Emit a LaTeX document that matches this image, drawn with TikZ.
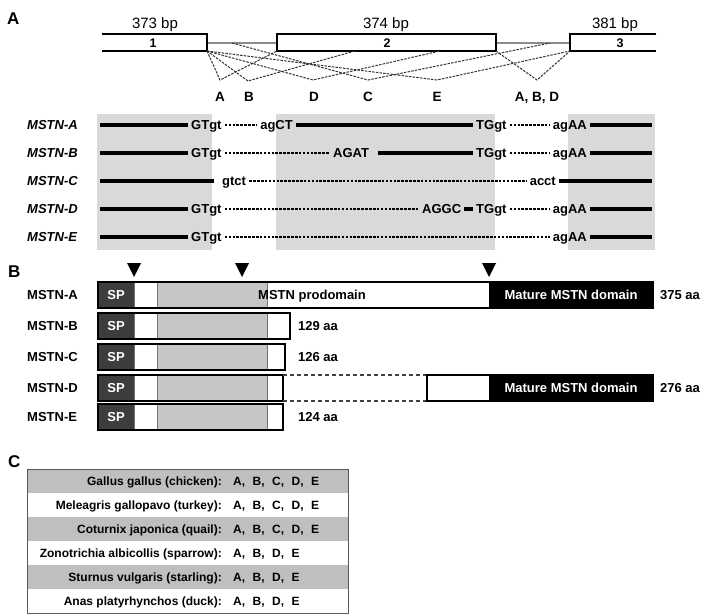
\documentclass[tikz,border=0pt]{standalone}
\usepackage{fontspec}
\setmainfont{Liberation Sans}
\definecolor{bgA}{HTML}{D9D9D9}
\definecolor{pg}{HTML}{C6C6C6}
\definecolor{spd}{HTML}{3D3D3D}
\definecolor{rowg}{HTML}{BFBFBF}
\begin{document}
\begin{tikzpicture}[x=1pt,y=-1pt,
  every node/.style={inner sep=0pt},
  f13/.style={font=\bfseries\fontsize{13}{15}\selectfont},
  seq/.style={f13, text height=9.3pt, text depth=0pt, inner xsep=3pt, inner ysep=0pt},
  rowlab/.style={f13, text height=9.3pt, text depth=0pt, anchor=west},
  panel/.style={font=\bfseries\fontsize{17}{19}\selectfont, anchor=base west},
  bp/.style={font=\fontsize{15}{17}\selectfont, anchor=base},
  exnum/.style={font=\bfseries\fontsize{12.5}{14}\selectfont, anchor=base},
  splab/.style={font=\bfseries\fontsize{13.5}{15}\selectfont, anchor=base},
  tline/.style={line width=3.2pt},
  dline/.style={line width=1.2pt, dash pattern=on 2.6pt off 1.3pt},
  splice/.style={line width=1pt, dash pattern=on 2.5pt off 1.2pt, black!80},
  exonl/.style={line width=2pt},
  intronl/.style={line width=1.5pt, black!45},
  boxl/.style={line width=1.3pt},
  divl/.style={line width=0.6pt, black!55},
  tri/.style={fill=black},
  tab/.style={font=\bfseries\fontsize{12}{14}\selectfont, text height=8.6pt, text depth=0pt},
]
\useasboundingbox[fill=white] (0,0) rectangle (701,615);

% ---------------- Panel A: gene structure ----------------
\node[panel] (pA) at (7,25) {A};
\node[bp] (bp1) at (155,29) {373 bp};
\node[bp] (bp2) at (386,29) {374 bp};
\node[bp] (bp3) at (615,29) {381 bp};

\coordinate (e1tl) at (102,34);
\coordinate (e1bl) at (102,51);
\coordinate (e1tr) at (207,34);
\coordinate (e1br) at (207,51);
\coordinate (e2tl) at (277,34);
\coordinate (e2bl) at (277,51);
\coordinate (e2tr) at (496,34);
\coordinate (e2br) at (496,51);
\coordinate (e3tl) at (570,34);
\coordinate (e3bl) at (570,51);
\coordinate (e3tr) at (656,34);
\coordinate (e3br) at (656,51);

\draw[intronl] (207,43) -- (277,43);
\draw[intronl] (496,43) -- (570,43);
\draw[exonl] (e1tl) -- (e1tr) -- (e1br) -- (e1bl);
\draw[exonl] (e2tl) rectangle (e2br);
\draw[exonl] (e3tr) -- (e3tl) -- (e3bl) -- (e3br);
\node[exnum] (n1) at (153,48) {1};
\node[exnum] (n2) at (387,48) {2};
\node[exnum] (n3) at (620,48) {3};

% splice vertices
\coordinate (vA) at (220,80);
\coordinate (vB) at (248,81);
\coordinate (vD) at (313,80);
\coordinate (vC) at (368,80);
\coordinate (vE) at (437,80);
\coordinate (vABD) at (537,80);
\coordinate (tB) at (355,51);
\coordinate (tD) at (440,51);
\coordinate (sC) at (232,43);
\coordinate (tC) at (550,43);

\draw[splice] (e1br) -- (vA) -- (e2bl);
\draw[splice] (e1br) -- (vB) -- (tB);
\draw[splice] (e1br) -- (vD) -- (tD);
\draw[splice] (sC) -- (vC) -- (tC);
\draw[splice] (e1br) -- (vE) -- (e3bl);
\draw[splice] (e2br) -- (vABD) -- (e3bl);

\node[splab] (lA) at (220,102) {A};
\node[splab] (lB) at (249,102) {B};
\node[splab] (lD) at (314,102) {D};
\node[splab] (lC) at (368,102) {C};
\node[splab] (lE) at (437,102) {E};
\node[splab] (lABD) at (537,102) {A, B, D};

% ---------------- Panel A: transcripts ----------------
\fill[bgA] (97,114) rectangle (212,250);
\fill[bgA] (276,114) rectangle (495,250);
\fill[bgA] (568,114) rectangle (655,250);

\node[rowlab] (tA) at (27,125) {\itshape MSTN-A};
\node[rowlab] (tB) at (27,153) {\itshape MSTN-B};
\node[rowlab] (tC) at (27,181) {\itshape MSTN-C};
\node[rowlab] (tD) at (27,209) {\itshape MSTN-D};
\node[rowlab] (tE) at (27,237) {\itshape MSTN-E};

% MSTN-A
\coordinate (a0) at (100,125);
\node[seq, anchor=west] (aGT) at (188,125) {GTgt};
\node[seq, anchor=east] (aCT) at (296,125) {agCT};
\node[seq, anchor=west] (aTG) at (473,125) {TGgt};
\node[seq, anchor=east] (aAA) at (590,125) {agAA};
\coordinate (a9) at (652,125);
\draw[tline] (a0) -- (aGT.west);
\draw[dline] (aGT.east) -- (aCT.west);
\draw[tline] (aCT.east) -- (aTG.west);
\draw[dline] (aTG.east) -- (aAA.west);
\draw[tline] (aAA.east) -- (a9);

% MSTN-B
\coordinate (b0) at (100,153);
\node[seq, anchor=west] (bGT) at (188,153) {GTgt};
\node[seq, anchor=west] (bAG) at (330,153) {AGAT};
\node[seq, anchor=west] (bTG) at (473,153) {TGgt};
\node[seq, anchor=east] (bAA) at (590,153) {agAA};
\coordinate (b9) at (652,153);
\draw[tline] (b0) -- (bGT.west);
\draw[dline] (bGT.east) -- (bAG.west);
\draw[tline, shorten <=6pt] (bAG.east) -- (bTG.west);
\draw[dline] (bTG.east) -- (bAA.west);
\draw[tline] (bAA.east) -- (b9);

% MSTN-C
\coordinate (c0) at (100,181);
\node[seq, anchor=west] (cGT) at (219,181) {gtct};
\node[seq, anchor=east] (cAC) at (559,181) {acct};
\coordinate (c9) at (652,181);
\draw[tline, shorten >=5pt] (c0) -- (cGT.west);
\draw[dline] (cGT.east) -- (cAC.west);
\draw[tline] (cAC.east) -- (c9);

% MSTN-D
\coordinate (d0) at (100,209);
\node[seq, anchor=west] (dGT) at (188,209) {GTgt};
\node[seq, anchor=west] (dAG) at (419,209) {AGGC};
\node[seq, anchor=west] (dTG) at (473,209) {TGgt};
\node[seq, anchor=east] (dAA) at (590,209) {agAA};
\coordinate (d9) at (652,209);
\draw[tline] (d0) -- (dGT.west);
\draw[dline] (dGT.east) -- (dAG.west);
\draw[tline] (dAG.east) -- (dTG.west);
\draw[dline] (dTG.east) -- (dAA.west);
\draw[tline] (dAA.east) -- (d9);

% MSTN-E
\coordinate (f0) at (100,237);
\node[seq, anchor=west] (fGT) at (188,237) {GTgt};
\node[seq, anchor=east] (fAA) at (590,237) {agAA};
\coordinate (f9) at (652,237);
\draw[tline] (f0) -- (fGT.west);
\draw[dline] (fGT.east) -- (fAA.west);
\draw[tline] (fAA.east) -- (f9);

% ---------------- Panel B ----------------
\node[panel] (pB) at (8,277) {B};
\fill[tri] (127,263) -- (141,263) -- (134,277) -- cycle;
\fill[tri] (235,263) -- (249,263) -- (242,277) -- cycle;
\fill[tri] (482,263) -- (496,263) -- (489,277) -- cycle;

% MSTN-A bar
\fill[spd] (98,282) rectangle (134,308);
\fill[pg] (157,282) rectangle (267,308);
\fill[black] (489,282) rectangle (653,308);
\draw[divl] (134,282) -- (134,308) (157,282) -- (157,308) (267,282) -- (267,308);
\draw[boxl] (98,282) rectangle (653,308);

% short bars
\foreach \yt/\xr in {313/290, 344/285, 375/283, 404/283} {
  \fill[spd] (98,\yt) rectangle (134,\yt+26);
  \fill[pg] (157,\yt) rectangle (267,\yt+26);
  \draw[divl] (134,\yt) -- (134,\yt+26) (157,\yt) -- (157,\yt+26) (267,\yt) -- (267,\yt+26);
  \draw[boxl] (98,\yt) rectangle (\xr,\yt+26);
}
% MSTN-D tail
\draw[line width=1.1pt, black!75, dash pattern=on 4pt off 3pt] (283,375) -- (427,375);
\draw[line width=1.1pt, black!75, dash pattern=on 4pt off 3pt] (283,401) -- (427,401);
\fill[black] (489,375) rectangle (653,401);
\draw[boxl] (427,375) rectangle (653,401);

\foreach \yc/\nm in {295/A, 326/B, 357/C, 388/D, 417/E} {
  \node[rowlab] (pl\nm) at (27,\yc) {MSTN-\nm};
  \node[f13, text height=9.3pt, text depth=0pt, text=white] (sp\nm) at (116,\yc) {SP};
}
\node[f13, text height=9.3pt, text depth=0pt] (prod) at (312,295) {MSTN prodomain};
\node[f13, text height=9.3pt, text depth=0pt, text=white] (matA) at (571,295) {Mature MSTN domain};
\node[f13, text height=9.3pt, text depth=0pt, text=white] (matD) at (571,388) {Mature MSTN domain};
\node[rowlab] (aaA) at (660,295) {375 aa};
\node[rowlab] (aaB) at (298,326) {129 aa};
\node[rowlab] (aaC) at (298,357) {126 aa};
\node[rowlab] (aaD) at (660,388) {276 aa};
\node[rowlab] (aaE) at (298,417) {124 aa};

% ---------------- Panel C ----------------
\node[panel] (pC) at (8,467) {C};
\foreach \i in {0,2,4} {
  \fill[rowg] (27,469+24*\i) rectangle (348,493+24*\i);
}
\draw[line width=1pt, black!65] (27,469) rectangle (348,613);
\foreach \i/\sp/\va in {
  0/{Gallus gallus (chicken):}/{A,\hspace{7.5pt}B,\hspace{7.5pt}C,\hspace{7.5pt}D,\hspace{7.5pt}E},
  1/{Meleagris gallopavo (turkey):}/{A,\hspace{7.5pt}B,\hspace{7.5pt}C,\hspace{7.5pt}D,\hspace{7.5pt}E},
  2/{Coturnix japonica (quail):}/{A,\hspace{7.5pt}B,\hspace{7.5pt}C,\hspace{7.5pt}D,\hspace{7.5pt}E},
  3/{Zonotrichia albicollis (sparrow):}/{A,\hspace{7.5pt}B,\hspace{7.5pt}D,\hspace{7.5pt}E},
  4/{Sturnus vulgaris (starling):}/{A,\hspace{7.5pt}B,\hspace{7.5pt}D,\hspace{7.5pt}E},
  5/{Anas platyrhynchos (duck):}/{A,\hspace{7.5pt}B,\hspace{7.5pt}D,\hspace{7.5pt}E}} {
  \node[tab, anchor=east] (sp\i) at (222,481+24*\i) {\sp};
  \node[tab, anchor=west] (va\i) at (233,481+24*\i) {\va};
}
\end{tikzpicture}
\end{document}
